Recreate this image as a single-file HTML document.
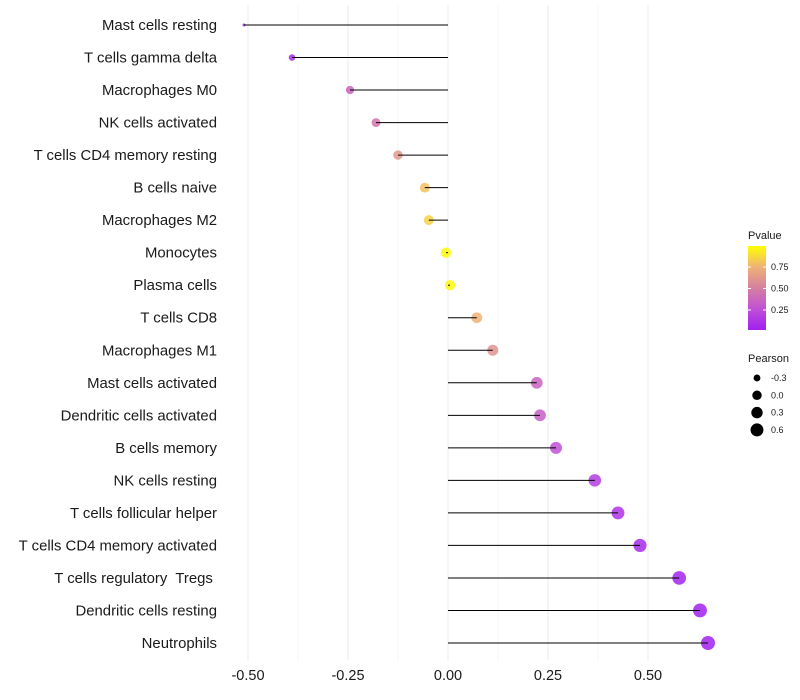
<!DOCTYPE html>
<html><head><meta charset="utf-8"><style>
body{margin:0;background:#fff;}
svg{display:block;font-family:"Liberation Sans",sans-serif;}
</style></head><body>
<svg id="c" width="800" height="700"></svg>
<script>
const categories=["Mast cells resting","T cells gamma delta","Macrophages M0","NK cells activated","T cells CD4 memory resting","B cells naive","Macrophages M2","Monocytes","Plasma cells","T cells CD8","Macrophages M1","Mast cells activated","Dendritic cells activated","B cells memory","NK cells resting","T cells follicular helper","T cells CD4 memory activated","T cells regulatory\u00a0 Tregs\u00a0","Dendritic cells resting","Neutrophils"];
const pearson=[-0.51,-0.39,-0.245,-0.18,-0.125,-0.058,-0.048,-0.005,0.005,0.072,0.112,0.222,0.23,0.27,0.367,0.425,0.48,0.578,0.63,0.65];
const pvalue=[0.0,0.05,0.35,0.45,0.62,0.8,0.85,0.98,0.98,0.75,0.6,0.35,0.33,0.25,0.15,0.1,0.05,0.02,0.01,0.005];
const xTicks=[-0.5,-0.25,0,0.25,0.5];
const xTickLabels=["-0.50","-0.25","0.00","0.25","0.50"];
const pTicks=[0.25,0.5,0.75];
const sizeTicks=[-0.3,0.0,0.3,0.6];
const sizeLabels=["-0.3","0.0","0.3","0.6"];

const NS="http://www.w3.org/2000/svg";
const svg=document.getElementById('c');
function mk(t,a,parent){const e=document.createElementNS(NS,t);for(const k in a)e.setAttribute(k,a[k]);(parent||svg).appendChild(e);return e;}
const x=v=>448+v*400;
const y=i=>25+i*(618/19);
const r=v=>1.5+5.5*Math.sqrt(Math.max(0,(v+0.51)/1.16));
const stops=[[0,[160,32,240]],[0.25,[192,80,215]],[0.5,[214,128,160]],[0.75,[238,178,118]],[1,[255,255,0]]];
function col(p){for(let k=1;k<stops.length;k++){if(p<=stops[k][0]){const a=stops[k-1],b=stops[k];const t=(p-a[0])/(b[0]-a[0]);const c=a[1].map((v,i)=>Math.round(v+(b[1][i]-v)*t));return `rgb(${c})`;}}return 'rgb(255,255,0)';}

for(let v=-0.5;v<=0.5001;v+=0.125){
  const g=mk('line',{x1:x(v),x2:x(v),y1:5,y2:660,stroke:'#ebebeb','stroke-width':Math.abs((v*4)%1)<0.01?1:0.5});
  
  
}
xTicks.forEach((v,i)=>{
  const t=mk('text',{x:x(v),y:680,'text-anchor':'middle','font-size':14.5,fill:'#1a1a1a'});t.textContent=xTickLabels[i];
  
  
});
categories.forEach((c,i)=>{
  const t=mk('text',{x:217,y:y(i)+5,'text-anchor':'end','font-size':14.9,fill:'#1a1a1a'});t.textContent=c;
  
  
  const d=mk('circle',{cx:x(pearson[i]),cy:y(i),r:r(pearson[i]),fill:col(pvalue[i]),'fill-opacity':0.85});
  
  
  const l=mk('line',{x1:x(0),x2:x(pearson[i]),y1:y(i),y2:y(i),stroke:'#000','stroke-width':1});
  
  
});
const lg=mk('g',{});


const t1=mk('text',{x:748,y:239,'font-size':11,fill:'#1a1a1a'},lg);t1.textContent='Pvalue';
const defs=mk('defs',{});
const gr=mk('linearGradient',{id:'pg',x1:0,y1:1,x2:0,y2:0},defs);
stops.forEach(s=>mk('stop',{offset:s[0],'stop-color':col(s[0])},gr));
const cb=mk('rect',{x:748,y:246,width:18,height:84,fill:'url(#pg)'},lg);


const py=p=>310-(p-0.25)*86;
pTicks.forEach(p=>{
  mk('line',{x1:748,x2:751,y1:py(p),y2:py(p),stroke:'#fff'},lg);
  mk('line',{x1:763,x2:766,y1:py(p),y2:py(p),stroke:'#fff'},lg);
  const t=mk('text',{x:771,y:py(p)+3,'font-size':9,fill:'#1a1a1a'},lg);t.textContent=p.toFixed(2);
  
  
});
const sg=mk('g',{});


const t2=mk('text',{x:748,y:362,'font-size':11,fill:'#1a1a1a'},sg);t2.textContent='Pearson';
sizeTicks.forEach((v,i)=>{
  const cy=378+i*17.3;
  const d=mk('circle',{cx:757,cy:cy,r:r(v)-0.4,fill:'#000'},sg);
  
  
  const t=mk('text',{x:771,y:cy+3,'font-size':9,fill:'#1a1a1a'},sg);t.textContent=sizeLabels[i];
  
  
});
</script>
</body></html>
